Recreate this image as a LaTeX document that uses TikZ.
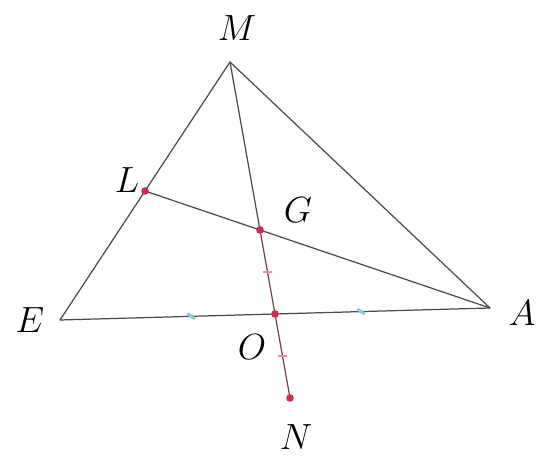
\documentclass[tikz,border=0pt]{standalone}
\usetikzlibrary{calc}

\definecolor{dotred}{RGB}{205,45,85}
\definecolor{ticktl}{RGB}{130,205,205}
\definecolor{lineg}{RGB}{75,75,75}

\begin{document}
\begin{tikzpicture}[
  x=0.02cm,y=-0.02cm,
  line cap=round,
  line join=round,
  side/.style={draw=lineg,line width=0.7pt},
  median/.style={draw=lineg,line width=0.7pt},
  extn/.style={draw=dotred!35!lineg,line width=0.7pt},
  pt/.style={fill=dotred,draw=none},
  tickteal/.style={draw=ticktl,line width=1.8pt},
  tickred/.style={draw=dotred!55,line width=0.7pt},
  lab/.style={font=\fontsize{22}{26}\selectfont,inner sep=0pt}
]
  \useasboundingbox (0,0) rectangle (539,465);

  % Vertices
  \coordinate (M) at (230,62);
  \coordinate (E) at (60,320);
  \coordinate (A) at (490,308);
  \coordinate (L) at ($(M)!0.5!(E)$);
  \coordinate (O) at ($(E)!0.5!(A)$);
  \coordinate (G) at ($(M)!2/3!(O)$);
  \coordinate (N) at ($(G)!2!(O)$);

  % Triangle
  \draw[side] (M) -- (E) -- (A) -- cycle;

  % Medians
  \draw[median] (L) -- (A);
  \draw[median] (M) -- (G);
  \draw[extn] (G) -- (N);

  % Equal marks
  \draw[tickteal] ($(E)!0.61!(O)+(-3,-2)$) -- ++(6,4);
  \draw[tickteal] ($(O)!0.40!(A)+(-3,-2)$) -- ++(6,4);
  \draw[tickred] ($(G)!0.5!(O)+(-4,0)$) -- ++(8,0);
  \draw[tickred] ($(O)!0.5!(N)+(-4,0)$) -- ++(8,0);

  % Points
  \foreach \p in {L,G,O,N}
    \fill[pt] (\p) circle (3.8);

  % Labels
  \node[lab] (labM) at (237,28) {$M$};
  \node[lab] (labL) at (127,180) {$L$};
  \node[lab] (labG) at (298,210) {$G$};
  \node[lab] (labE) at (30,320) {$E$};
  \node[lab] (labA) at (522,313) {$A$};
  \node[lab] (labO) at (252,347) {$O$};
  \node[lab] (labN) at (296,437) {$N$};
\end{tikzpicture}
\end{document}
